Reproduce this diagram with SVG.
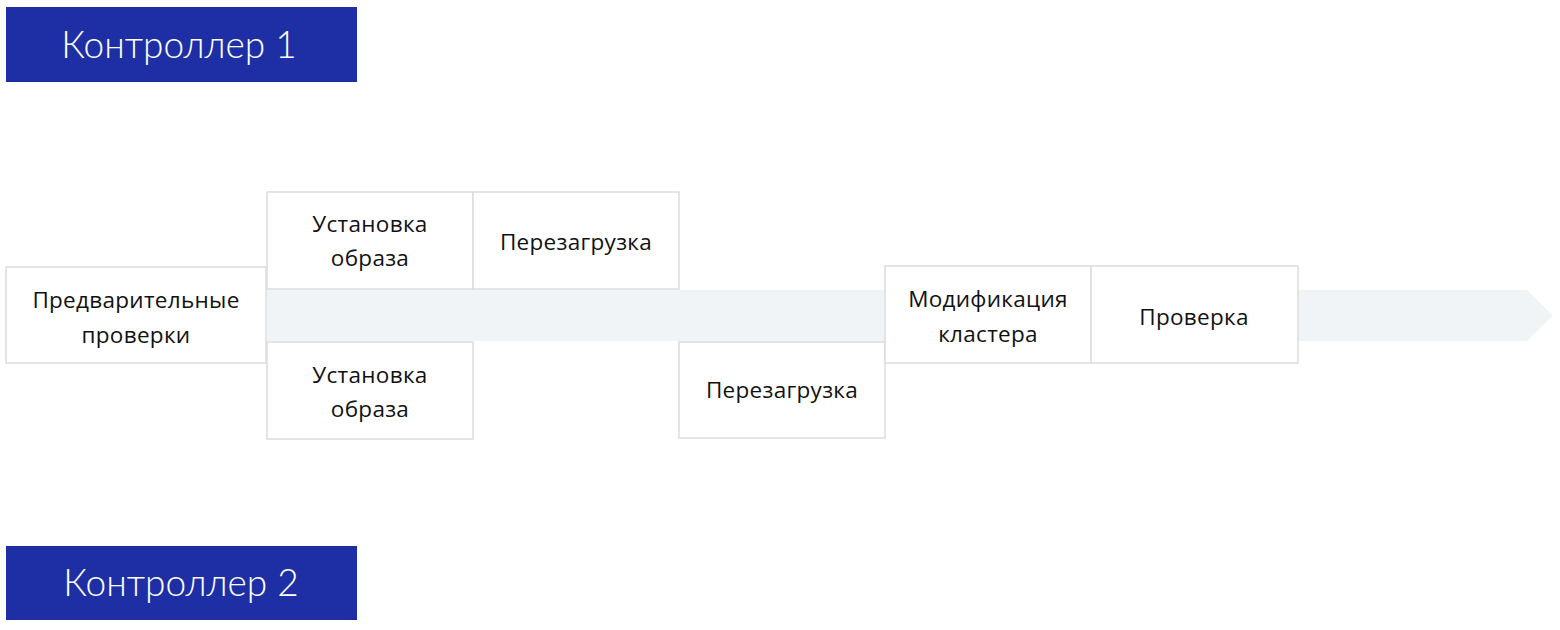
<svg xmlns="http://www.w3.org/2000/svg" width="1560" height="630" viewBox="0 0 1560 630">
<style>
.ctl{fill:#1E2FA5}
.ctlt{fill:#FFFFFF;font-family:Lato,"Open Sans","Liberation Sans",sans-serif;font-weight:300;font-size:37px;text-anchor:middle}
.box{fill:#FFFFFF;stroke:#DCDCDC;stroke-width:1.5}
.t{fill:#111111;font-family:"Open Sans","Liberation Sans",sans-serif;font-size:22.5px;letter-spacing:0.3px;text-anchor:middle}
.band{fill:#F1F4F7}
</style>
<rect width="1560" height="630" fill="#FFFFFF"/>
<g id="controller1"><rect class="ctl" x="6" y="7" width="351" height="75"/><text class="ctlt" x="179" y="58">Контроллер 1</text></g>
<g id="controller2"><rect class="ctl" x="6" y="546" width="351" height="74"/><text class="ctlt" x="181" y="596">Контроллер 2</text></g>
<g id="connectors"><polygon class="band" points="267,290 1527,290 1553,315.5 1527,341 267,341"/></g>
<g id="prechecks"><rect class="box" x="6" y="267" width="260" height="96"/><text class="t" x="136" y="308">Предварительные</text><text class="t" x="136" y="343">проверки</text></g>
<g id="install1"><rect class="box" x="267" y="192" width="206" height="97"/><text class="t" x="370" y="232">Установка</text><text class="t" x="370" y="266">образа</text></g>
<g id="reboot1"><rect class="box" x="473" y="192" width="206" height="97"/><text class="t" x="576" y="250">Перезагрузка</text></g>
<g id="install2"><rect class="box" x="267" y="342" width="206" height="97"/><text class="t" x="370" y="383">Установка</text><text class="t" x="370" y="417">образа</text></g>
<g id="reboot2"><rect class="box" x="679" y="342" width="206" height="96"/><text class="t" x="782" y="398">Перезагрузка</text></g>
<g id="modify"><rect class="box" x="885" y="266" width="206" height="97"/><text class="t" x="988" y="307">Модификация</text><text class="t" x="988" y="342">кластера</text></g>
<g id="verify"><rect class="box" x="1091" y="266" width="207" height="97"/><text class="t" x="1194" y="325">Проверка</text></g>
</svg>
